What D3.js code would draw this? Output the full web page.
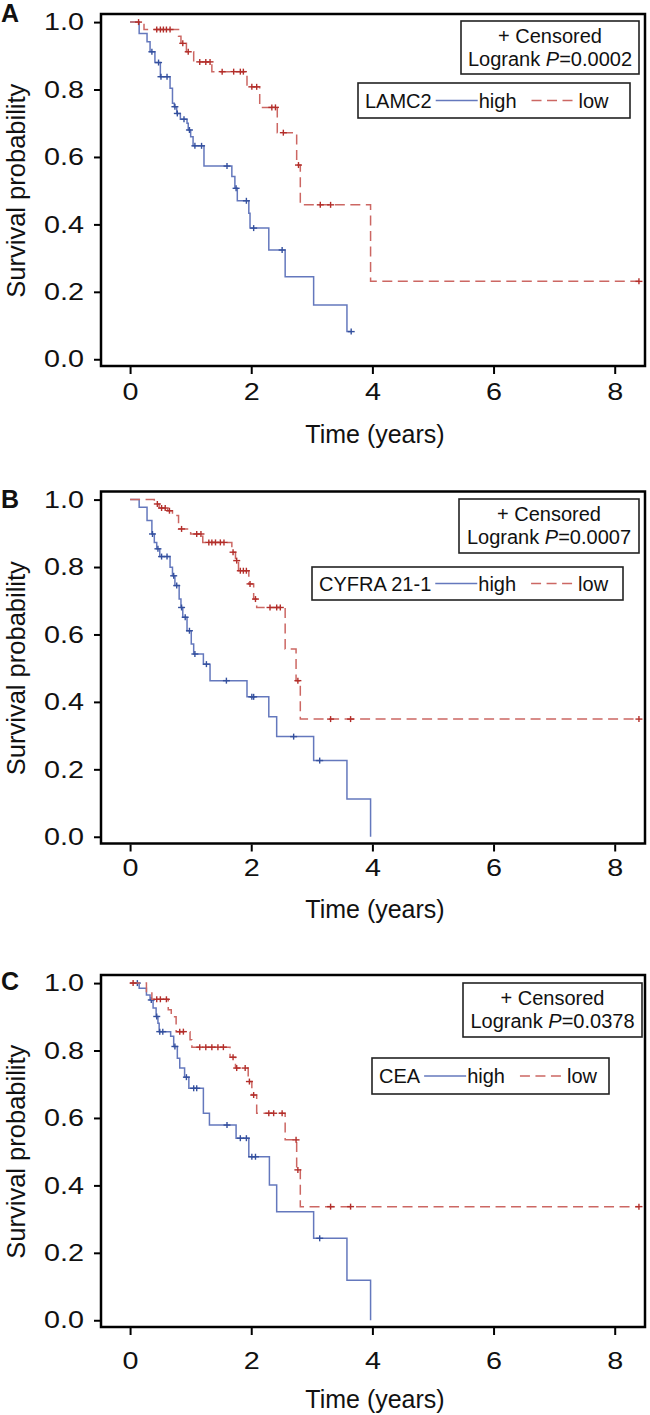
<!DOCTYPE html>
<html><head><meta charset="utf-8">
<script src="https://cdn.jsdelivr.net/npm/d3@7"></script>
<style>
body{margin:0;background:#fff}
svg{display:block}
text{font-family:"Liberation Sans",Arial,Helvetica,sans-serif;fill:#111}
</style>
</head><body>
<svg id="chart" width="650" height="1415"></svg>
<script>
// ---------- data ----------
const xTicks = [0, 2, 4, 6, 8];
const yTicks = [0, 0.2, 0.4, 0.6, 0.8, 1.0];
const panelLetters = ["A", "B", "C"];
const markerNames = ["LAMC2", "CYFRA 21-1", "CEA"];
const pValues = ["0.0002", "0.0007", "0.0378"];
const groupNames = ["high", "low"];

// Panel A – LAMC2
const aHighTimes = [0.15,0.28,0.33,0.41,0.50,0.66,0.70,0.73,0.77,0.83,0.94,0.96,1.00,1.04,1.22,1.68,1.73,1.77,1.96,1.98,2.29,2.56,3.03,3.58];
const aHighSurv  = [0.966,0.942,0.912,0.880,0.838,0.804,0.759,0.749,0.729,0.712,0.700,0.680,0.660,0.633,0.573,0.542,0.507,0.470,0.433,0.389,0.324,0.245,0.161,0.082];
const aHighCens  = [0.36,0.47,0.51,0.61,0.74,0.78,0.89,0.98,1.07,1.18,1.60,1.75,1.92,2.04,2.51,3.65];
const aLowTimes  = [0.23,0.80,0.84,0.93,1.05,1.35,1.93,2.14,2.43,2.75,2.81,3.97];
const aLowSurv   = [0.978,0.958,0.937,0.912,0.882,0.853,0.808,0.747,0.672,0.576,0.458,0.231];
const aLowCens   = [0.14,0.44,0.50,0.55,0.60,0.66,0.87,0.96,1.15,1.25,1.32,1.52,1.71,1.82,1.87,2.01,2.09,2.34,2.40,2.53,2.78,3.14,3.31,8.40];

// Panel B – CYFRA 21-1
const bHighTimes = [0.15,0.28,0.36,0.40,0.44,0.49,0.66,0.70,0.74,0.81,0.84,0.87,0.94,1.01,1.05,1.21,1.32,1.93,2.29,2.42,3.03,3.58,3.97];
const bHighSurv  = [0.977,0.938,0.898,0.873,0.854,0.831,0.799,0.774,0.745,0.705,0.680,0.651,0.611,0.572,0.542,0.512,0.463,0.415,0.356,0.297,0.226,0.112,0];
const bHighCens  = [0.37,0.46,0.52,0.61,0.72,0.77,0.85,0.91,0.98,1.07,1.26,1.59,2.01,2.04,2.70,3.13];
const bLowTimes  = [0.40,0.48,0.62,0.70,0.80,1.00,1.20,1.68,1.74,1.79,1.96,2.04,2.09,2.56,2.74,2.81];
const bLowSurv   = [0.987,0.975,0.967,0.953,0.913,0.898,0.873,0.844,0.819,0.789,0.750,0.705,0.680,0.557,0.463,0.349];
const bLowCens   = [0.45,0.52,0.58,0.65,0.85,1.10,1.17,1.30,1.35,1.41,1.49,1.55,1.70,1.76,1.82,1.87,1.92,1.98,2.07,2.31,2.42,2.48,2.77,3.31,3.64,8.40];

// Panel C – CEA
const cHighTimes = [0.15,0.27,0.33,0.38,0.43,0.46,0.48,0.67,0.72,0.78,0.82,0.90,0.97,1.21,1.31,1.75,1.96,2.30,2.42,3.03,3.58,3.97];
const cHighSurv  = [0.985,0.965,0.950,0.926,0.901,0.881,0.856,0.842,0.812,0.777,0.748,0.721,0.688,0.614,0.579,0.540,0.485,0.401,0.322,0.243,0.119,0];
const cHighCens  = [0.12,0.35,0.44,0.49,0.54,0.74,0.93,1.05,1.10,1.60,1.82,1.92,2.01,2.07,3.13];
const cLowTimes  = [0.27,0.36,0.63,0.68,0.76,0.99,1.02,1.65,1.74,1.95,2.01,2.09,2.56,2.75,2.81];
const cLowSurv   = [0.975,0.952,0.921,0.900,0.856,0.832,0.810,0.780,0.748,0.708,0.668,0.614,0.535,0.446,0.337];
const cLowCens   = [0.05,0.44,0.50,0.60,0.82,0.88,1.15,1.25,1.35,1.45,1.54,1.70,1.76,1.90,1.97,2.04,2.29,2.37,2.51,2.74,2.77,3.31,3.64,8.40];

// ---------- layout / style ----------
const curves = [
  {high:{t:aHighTimes,s:aHighSurv,c:aHighCens}, low:{t:aLowTimes,s:aLowSurv,c:aLowCens}},
  {high:{t:bHighTimes,s:bHighSurv,c:bHighCens}, low:{t:bLowTimes,s:bLowSurv,c:bLowCens}},
  {high:{t:cHighTimes,s:cHighSurv,c:cHighCens}, low:{t:cLowTimes,s:cLowSurv,c:cLowCens}}
];
const layout = [
  {top:14,   letterY:22,   tickLabY:400,  titleY:443,  box1:[461,21,178,53],  box2:[358,83,272,35]},
  {top:491.5,letterY:508,  tickLabY:876,  titleY:918,  box1:[459,499,180,54], box2:[312,567,311,33]},
  {top:975,  letterY:990,  tickLabY:1369, titleY:1408, box1:[463,983,179,54], box2:[372,1058,237,36]}
];
const L = 101, R = 645, H = 352;
const style = {
  high:{line:"#6478bd", cens:"#34509e", dash:null},
  low: {line:"#cc6763", cens:"#b32e2a", dash:"10,5.5"}
};

const svg = d3.select("#chart");
const x = d3.scaleLinear().domain([-0.48, 8.5]).range([L, R]);

function survAt(d, t){
  let s = 1;
  for (let i = 0; i < d.t.length; i++) { if (d.t[i] <= t) s = d.s[i]; }
  return s;
}
function widen(sel, f){
  sel.each(function(){
    const w = this.getComputedTextLength();
    this.setAttribute("textLength", (w*f).toFixed(1));
    this.setAttribute("lengthAdjust", "spacingAndGlyphs");
  });
}

layout.forEach((lay, pi) => {
  const g = svg.append("g");
  const y = d3.scaleLinear().domain([-0.02, 1.024]).range([lay.top + H, lay.top]);

  // curves
  ["high","low"].forEach(k => {
    const d = curves[pi][k];
    const end = Math.max(d.t[d.t.length-1], d.c.length ? d.c[d.c.length-1] : 0);
    const pts = [[0,1]];
    let cur = 1;
    d.t.forEach((t,i) => { pts.push([t,cur]); pts.push([t,d.s[i]]); cur = d.s[i]; });
    pts.push([end, cur]);
    const line = d3.line().x(p => x(p[0])).y(p => y(p[1]));
    g.append("path").attr("d", line(pts)).attr("fill","none")
      .attr("stroke", style[k].line).attr("stroke-width",1.5)
      .attr("stroke-dasharray", style[k].dash);
    const cg = g.append("g").attr("stroke", style[k].cens).attr("stroke-width",1.4);
    d.c.forEach(t => {
      const cx = x(t), cy = y(survAt(d,t));
      cg.append("line").attr("x1",cx-3.5).attr("x2",cx+3.5).attr("y1",cy).attr("y2",cy);
      cg.append("line").attr("x1",cx).attr("x2",cx).attr("y1",cy-3).attr("y2",cy+3);
    });
  });

  // frame
  g.append("rect").attr("x",L).attr("y",lay.top).attr("width",R-L).attr("height",H)
    .attr("fill","none").attr("stroke","#000").attr("stroke-width",2.5);

  // y axis
  const yAxis = d3.axisLeft(y).tickValues(yTicks).tickFormat(d3.format(".1f")).tickSize(6).tickPadding(10);
  const ya = g.append("g").attr("transform",`translate(${L - 1},0)`).call(yAxis);
  ya.select(".domain").remove();
  ya.selectAll(".tick line").attr("stroke","#000").attr("stroke-width",2);
  const ytx = ya.selectAll(".tick text").attr("font-size",24).attr("fill","#111")
    .attr("font-family","'Liberation Sans',Arial,sans-serif");
  widen(ytx, 1.2);

  // x axis
  const xAxis = d3.axisBottom(x).tickValues(xTicks).tickFormat(d3.format("d")).tickSize(7).tickPadding(0);
  const xa = g.append("g").attr("transform",`translate(0,${lay.top + H + 1})`).call(xAxis);
  xa.select(".domain").remove();
  xa.selectAll(".tick line").attr("stroke","#000").attr("stroke-width",2);
  const xtx = xa.selectAll(".tick text").attr("font-size",24).attr("fill","#111")
    .attr("font-family","'Liberation Sans',Arial,sans-serif")
    .attr("y", lay.tickLabY - (lay.top + H + 1)).attr("dy",0);
  widen(xtx, 1.2);

  // axis titles
  g.append("text").attr("x",(L+R)/2 + 2).attr("y",lay.titleY).attr("text-anchor","middle")
    .attr("font-size",25).text("Time (years)");
  const ymid = (y(0)+y(1))/2;
  g.append("text").attr("transform",`translate(25,${ymid}) rotate(-90)`)
    .attr("text-anchor","middle").attr("font-size",25.5).text("Survival probability");

  // panel letter
  g.append("text").attr("x",1).attr("y",lay.letterY).attr("font-size",25)
    .attr("font-weight","bold").text(panelLetters[pi]);

  // box 1 : censored / logrank
  const [b1x,b1y,b1w,b1h] = lay.box1;
  g.append("rect").attr("x",b1x).attr("y",b1y).attr("width",b1w).attr("height",b1h)
    .attr("fill","#fff").attr("stroke","#222").attr("stroke-width",1.6);
  g.append("text").attr("x",b1x+b1w/2).attr("y",b1y+22).attr("text-anchor","middle")
    .attr("font-size",20).text("+ Censored");
  const t2 = g.append("text").attr("x",b1x+b1w/2).attr("y",b1y+45).attr("text-anchor","middle")
    .attr("font-size",20);
  t2.append("tspan").text("Logrank ");
  t2.append("tspan").attr("font-style","italic").text("P");
  t2.append("tspan").text("=" + pValues[pi]);

  // box 2 : group legend
  const [b2x,b2y,b2w,b2h] = lay.box2;
  g.append("rect").attr("x",b2x).attr("y",b2y).attr("width",b2w).attr("height",b2h)
    .attr("fill","#fff").attr("stroke","#222").attr("stroke-width",1.6);
  const ty = b2y + b2h/2 + 7, ly = b2y + b2h/2;
  let cx = b2x + 7;
  const nm = g.append("text").attr("x",cx).attr("y",ty).attr("font-size",20).text(markerNames[pi]);
  cx += nm.node().getComputedTextLength() + 4;
  g.append("line").attr("x1",cx).attr("x2",cx+42).attr("y1",ly).attr("y2",ly)
    .attr("stroke",style.high.line).attr("stroke-width",1.5);
  cx += 43;
  const hi = g.append("text").attr("x",cx).attr("y",ty).attr("font-size",20).text(groupNames[0]);
  cx += hi.node().getComputedTextLength() + 15;
  g.append("line").attr("x1",cx).attr("x2",cx+46).attr("y1",ly).attr("y2",ly)
    .attr("stroke",style.low.line).attr("stroke-width",1.5).attr("stroke-dasharray","10,5.5");
  cx += 47;
  g.append("text").attr("x",cx).attr("y",ty).attr("font-size",20).text(groupNames[1]);
});
</script>
</body></html>
